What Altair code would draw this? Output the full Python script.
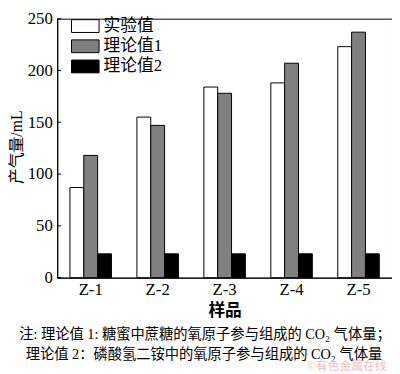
import altair as alt
import pandas as pd

samples = ["Z-1", "Z-2", "Z-3", "Z-4", "Z-5"]
series = ["实验值", "理论值1", "理论值2"]
exp_vals = [87, 155, 184, 188, 223]
theo1_vals = [118, 147, 178, 207, 237]
theo2_vals = [23, 23, 23, 23, 23]
y_ticks = [0, 50, 100, 150, 200, 250]
colors = ["white", "#808080", "black"]
notes = [
    "注: 理论值 1: 糖蜜中蔗糖的氧原子参与组成的 CO₂ 气体量；",
    "理论值 2：磷酸氢二铵中的氧原子参与组成的 CO₂ 气体量",
]
watermark = "©有色金属在线"

rows = []
for name, vals in zip(series, [exp_vals, theo1_vals, theo2_vals]):
    for s, v in zip(samples, vals):
        rows.append({"sample": s, "series": name, "value": v})
df = pd.DataFrame(rows)

FONT = "Liberation Serif, Noto Sans CJK SC"

y_axis = alt.Axis(title="产气量/mL", values=y_ticks, tickSize=0, grid=False,
                  labelPadding=5, labelFontSize=17, labelFont=FONT,
                  labelColor="black", titleFontSize=16, titleFont=FONT,
                  titleFontWeight="normal", titleColor="black",
                  titleX=-33, titleY=130, domainColor="black")
y_scale = alt.Scale(domain=[0, 250], nice=False)

bars = alt.Chart(df).mark_bar(stroke="black", strokeWidth=1).encode(
    x=alt.X("sample:N", sort=samples,
            scale=alt.Scale(paddingInner=0.38, paddingOuter=0.19),
            axis=alt.Axis(title="样品", labelAngle=0, tickSize=0, labelPadding=4,
                          labelFontSize=17, labelFont=FONT, labelColor="black",
                          titleFontSize=17, titleFont=FONT, titleFontWeight="bold",
                          titleColor="black", titlePadding=5,
                          domainColor="black")),
    xOffset=alt.XOffset("series:N", sort=series),
    y=alt.Y("value:Q", scale=y_scale, axis=y_axis),
    fill=alt.Fill("series:N", sort=series,
                  scale=alt.Scale(domain=series, range=colors),
                  legend=alt.Legend(title=None, orient="none", legendX=18, legendY=-3,
                                    symbolType="M-1.4,-0.65H1.4V0.65H-1.4Z",
                                    symbolSize=400, symbolStrokeColor="black",
                                    symbolStrokeWidth=1, labelFontSize=17,
                                    labelFont=FONT, labelColor="black",
                                    labelOffset=8, rowPadding=1.5, padding=0)),
)

tick_df = pd.DataFrame({"value": y_ticks})
ticks = alt.Chart(tick_df).mark_rule(color="black", strokeWidth=1).encode(
    y=alt.Y("value:Q", scale=y_scale, axis=y_axis),
    x=alt.value(0),
    x2=alt.value(4),
)

note_pos = [(150, 321), (149, 342)]
note_layers = []
for t, (px, py) in zip(notes, note_pos):
    note_layers.append(
        alt.Chart(pd.DataFrame({"text": [t]})).mark_text(
            font=FONT, fontSize=14.5, color="black", baseline="middle", align="center"
        ).encode(text="text:N", x=alt.value(px), y=alt.value(py))
    )

wm = alt.Chart(pd.DataFrame({"text": [watermark]})).mark_text(
    font=FONT, fontSize=12, color="#f0c0c0", baseline="middle", align="center"
).encode(text="text:N", x=alt.value(294), y=alt.value(353))

chart = alt.layer(bars, ticks, *note_layers, wm).properties(
    width=340, height=263,
    autosize=alt.AutoSizeParams(type="none"),
    padding={"left": 50, "top": 8, "right": 0, "bottom": 95},
).configure_view(stroke="black", strokeWidth=1)

chart.save("out.html", embed_options={"renderer": "svg", "actions": False})
